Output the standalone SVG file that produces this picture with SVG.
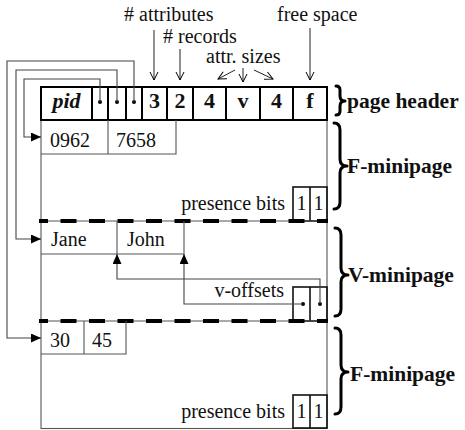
<svg xmlns="http://www.w3.org/2000/svg" width="465" height="430" viewBox="0 0 465 430">
<defs>
<marker id="fa" markerUnits="userSpaceOnUse" markerWidth="11" markerHeight="10" refX="10" refY="4.5" orient="auto"><path d="M0,0 L10,4.5 L0,9 z" fill="#000"/></marker>
<marker id="oa" markerUnits="userSpaceOnUse" markerWidth="10" markerHeight="10" refX="8.5" refY="4.5" orient="auto"><path d="M0.5,0.5 L8.5,4.5 L0.5,8.5" fill="none" stroke="#000" stroke-width="1"/></marker>
<style>
.t{font-family:"Liberation Serif","Times New Roman",serif;font-size:20px;fill:#111}
.hb{font-family:"Liberation Serif","Times New Roman",serif;font-size:22px;font-weight:bold;fill:#111;text-anchor:middle}
.lb{font-family:"Liberation Serif","Times New Roman",serif;font-size:21.5px;font-weight:bold;fill:#111}
.thin{fill:none;stroke:#555;stroke-width:1.1}
.box{fill:none;stroke:#111;stroke-width:1.6}
.hdr{fill:none;stroke:#000;stroke-width:2}
.dash{fill:none;stroke:#000;stroke-width:4;stroke-dasharray:16 12.5;stroke-dashoffset:7}
.conn{fill:none;stroke:#444;stroke-width:1.1}
.lab{fill:none;stroke:#222;stroke-width:1}
.brace{fill:none;stroke:#000;stroke-width:3;stroke-linejoin:round;stroke-linecap:round}
.m{text-anchor:middle}
</style>
</defs>

<g id="page-outline">
<rect class="thin" x="41" y="120" width="286" height="308.5"/>
</g>

<g id="page-header">
<rect class="hdr" x="41" y="87" width="286" height="33"/>
<path class="hdr" d="M92,87V120M108,87V120M126,87V120M142,87V120M167,87V120M193,87V120M226,87V120M260,87V120M293,87V120"/>
<text class="hb" x="66.5" y="108" font-style="italic">pid</text>
<circle cx="100" cy="102" r="2" fill="#000"/>
<circle cx="117" cy="102" r="2" fill="#000"/>
<circle cx="134" cy="102" r="2" fill="#000"/>
<text class="hb" x="154.5" y="108">3</text>
<text class="hb" x="180" y="108">2</text>
<text class="hb" x="209.5" y="108">4</text>
<text class="hb" x="243" y="108">v</text>
<text class="hb" x="276.5" y="108">4</text>
<text class="hb" x="310" y="108">f</text>
</g>

<g id="f-minipage-1">
<path class="thin" d="M41,154H176V120M108,120V154"/>
<text class="t" x="50" y="147">0962</text>
<text class="t" x="116" y="147">7658</text>
<text class="t" x="285" y="210" text-anchor="end">presence bits</text>
<rect class="box" x="293" y="187" width="34" height="34"/>
<path class="box" d="M310,187V221"/>
<text class="t m" x="301.5" y="210">1</text>
<text class="t m" x="318.5" y="210">1</text>
</g>

<g id="separator-1">
<path class="thin" d="M41,221H327"/>
<path class="dash" d="M39,221H328"/>
</g>

<g id="v-minipage">
<path class="thin" d="M41,254H184V221M117,221V254"/>
<text class="t" x="51" y="246">Jane</text>
<text class="t" x="127" y="246">John</text>
<text class="t" x="284" y="297" text-anchor="end">v-offsets</text>
<rect class="box" x="293" y="287" width="34" height="34"/>
<path class="box" d="M310,287V321"/>
<circle cx="303" cy="304" r="2" fill="#000"/>
<circle cx="320" cy="304" r="2" fill="#000"/>
</g>

<g id="separator-2">
<path class="thin" d="M41,321H327"/>
<path class="dash" d="M39,321H328"/>
</g>

<g id="f-minipage-2">
<path class="thin" d="M41,354H126V321M84,321V354"/>
<text class="t" x="50" y="347">30</text>
<text class="t" x="92" y="347">45</text>
<text class="t" x="285" y="418" text-anchor="end">presence bits</text>
<rect class="box" x="293" y="395" width="34" height="33"/>
<path class="box" d="M310,395V428"/>
<text class="t m" x="301.5" y="418">1</text>
<text class="t m" x="318.5" y="418">1</text>
</g>

<g id="labels">
<text class="t" x="124" y="21"># attributes</text>
<text class="t" x="163" y="43"># records</text>
<text class="t" x="206" y="63">attr. sizes</text>
<text class="t" x="277" y="21">free space</text>
<path class="brace" d="M336,86 Q340,86 340,90 V96 Q340,101 345,101 Q340,101 340,106 V111 Q340,115 336,115"/>
<text class="lb" x="347" y="108">page header</text>
<path class="brace" d="M334,123 Q340,123 340,130 V159 Q340,166 347,166 Q340,166 340,173 V202 Q340,209 334,209"/>
<text class="lb" x="347" y="173">F-minipage</text>
<path class="brace" d="M335,228 Q341,228 341,235 V268 Q341,275 348,275 Q341,275 341,282 V309 Q341,316 335,316"/>
<text class="lb" x="348" y="282">V-minipage</text>
<path class="brace" d="M335,328 Q341,328 341,335 V365 Q341,372 348,372 Q341,372 341,379 V407 Q341,414 335,414"/>
<text class="lb" x="350" y="381">F-minipage</text>
</g>

<g id="connectors">
<path class="lab" d="M154,30V80" marker-end="url(#oa)"/>
<path class="lab" d="M180,49V80" marker-end="url(#oa)"/>
<path class="lab" d="M310,28V80" marker-end="url(#oa)"/>
<path class="lab" d="M243,68V82" marker-end="url(#oa)"/>
<path class="lab" d="M235,70L218,79" marker-end="url(#oa)"/>
<path class="lab" d="M254,70L273,79" marker-end="url(#oa)"/>
<path class="conn" d="M100,102V79H24V137H41" marker-end="url(#fa)"/>
<path class="conn" d="M117,102V70H16V239H41" marker-end="url(#fa)"/>
<path class="conn" d="M134,102V61H7V338H41" marker-end="url(#fa)"/>
<path class="conn" d="M320,304V279H117V254" marker-end="url(#fa)"/>
<path class="conn" d="M303,304H184V254" marker-end="url(#fa)"/>
</g>
</svg>
